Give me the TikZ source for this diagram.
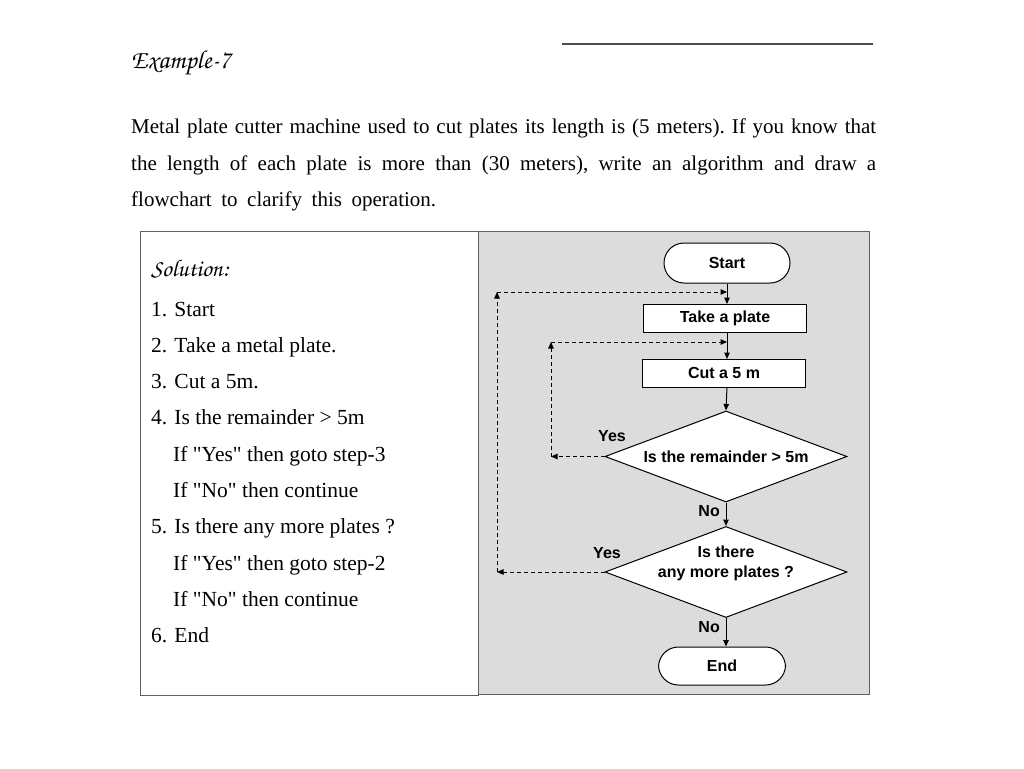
\documentclass[tikz,border=0pt]{standalone}
\usepackage[T1]{fontenc}
\usepackage{fontspec}
\setmainfont{Liberation Serif}
\newfontfamily\chartfont{Liberation Sans}
\usetikzlibrary{arrows.meta,shapes.geometric}
\newcommand{\scriptfnt}{\fontencoding{T1}\fontfamily{pzc}\fontseries{mb}\fontshape{it}\selectfont}
\newcommand{\qq}{\textquotedbl}
\definecolor{panelgrey}{RGB}{220,220,220}
\definecolor{framegrey}{RGB}{95,95,95}
\tikzset{
  >/.tip={Triangle[length=6.5pt,width=5.5pt]},
  body/.style={anchor=base west,inner sep=0pt,font=\frenchspacing\fontsize{21}{24}\selectfont},
  algo/.style={anchor=base west,inner sep=0pt,font=\nonfrenchspacing\fontsize{21.5}{24}\selectfont},
  term/.style={draw,line width=1pt,fill=white,rounded corners=20pt,minimum width=126pt,minimum height=40pt,font=\chartfont\bfseries\fontsize{16}{19}\selectfont},
  proc/.style={draw,line width=1pt,fill=white,minimum width=163pt,minimum height=28pt,inner sep=0pt,font=\chartfont\bfseries\fontsize{16}{19}\selectfont},
  test/.style={draw,line width=1pt,fill=white,diamond,aspect=2.6,inner sep=0pt,minimum width=242pt,minimum height=91pt,align=center,font=\chartfont\bfseries\fontsize{16}{20}\selectfont},
  tag/.style={inner sep=1pt,font=\chartfont\bfseries\fontsize{16}{20}\selectfont},
  flow/.style={->,line width=1pt},
  back/.style={->,dash pattern=on 4pt off 3pt,line width=1pt}
}

\begin{document}
\begin{tikzpicture}[x=1pt,y=-1pt]
\useasboundingbox (0,0) rectangle (1024,768);
% heading and question
\draw[line width=1.2pt,black!70] (562,44) -- (873,44);
\node[anchor=base west,inner sep=0pt,font=\scriptfnt\fontsize{26}{30}\selectfont] (title) at (131,68) {Example-7};
\node[body] (q1) at (131,133) {\spaceskip=.12em plus 1em minus .1em\makebox[745pt][s]{Metal plate cutter machine used to cut plates its length is (5 meters). If you know that}};
\node[body] (q2) at (131,170) {\makebox[745pt][s]{the length of each plate is more than (30 meters), write an algorithm and draw a}};
\node[body] (q3) at (131,206.5) {\makebox[305pt][s]{flowchart to clarify this operation.}};

% the two panels
\draw[framegrey,line width=1pt,fill=white] (140,231) rectangle (478,695);
\draw[framegrey,line width=1pt,fill=panelgrey] (478,231) rectangle (869,694);

% algorithm
\node[anchor=base west,inner sep=0pt,font=\scriptfnt\fontsize{24}{28}\selectfont] (sol) at (151,276.5) {Solution:};
\foreach \txt [count=\k from 0] in {1. Start,2. Take a metal plate.,3. Cut a 5m.,4. Is the remainder > 5m,
  \hspace*{22pt}If \qq Yes\qq{} then goto step-3,\hspace*{22pt}If \qq No\qq{} then continue,5. Is there any more plates ?,
  \hspace*{22pt}If \qq Yes\qq{} then goto step-2,\hspace*{22pt}If \qq No\qq{} then continue,6. End}
{
  \node[algo] (alg\k) at (151,316+36.3*\k) {\txt};
}

% flowchart
\node[term] (start) at (727,263) {Start};
\node[proc] (take) at (725,318) {Take a plate};
\node[proc] (cut) at (724,373) {Cut a 5 m};
\node[test] (rem) at (726,456.5) {Is the remainder > 5m};
\node[test,label={[tag,align=center,yshift=9pt]center:Is there\\any more plates ?}] (more) at (726,572) {};
\node[term,minimum width=127pt,minimum height=38pt] (end) at (722,666) {End};

\draw[flow] (start.south -| 727,0) -- (727,304);
\draw[flow] (727,332) -- (727,359);
\draw[flow] (727,387) -- (rem.north);
\draw[flow] (rem.south) -- (more.north);
\draw[flow] (more.south) -- (more.south |- end.north);
\node[tag,anchor=east] (no1) at (721,511) {No};
\node[tag,anchor=east] (no2) at (721,627) {No};
\node[tag] (yes1) at (612,436) {Yes};
\node[tag] (yes2) at (607,553) {Yes};

% loop back lines
\coordinate (b1) at (551,456.5);
\coordinate (t1) at (551,342);
\coordinate (j1) at (727,342);
\coordinate (b2) at (497,572);
\coordinate (t2) at (497,292);
\coordinate (j2) at (727,292);
\draw[back] (rem.west) -- (b1);
\draw[back] (b1) -- (t1);
\draw[back] (t1) -- (j1);
\draw[back] (more.west) -- (b2);
\draw[back] (b2) -- (t2);
\draw[back] (t2) -- (j2);
\end{tikzpicture}
\end{document}
